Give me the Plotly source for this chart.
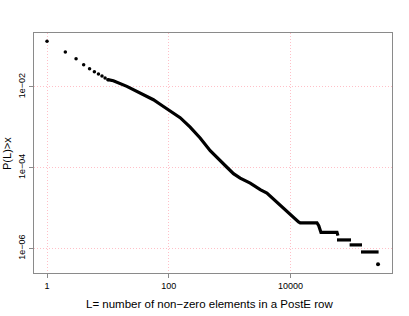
import plotly.graph_objects as go

# Discrete points at small L
disc_L = [1, 2, 3, 4, 5, 6, 7, 8, 9, 10]
disc_P = [0.1355, 0.074, 0.0503, 0.0357, 0.0284, 0.024, 0.021, 0.0188, 0.0167, 0.0152]

# Dense part of the curve
curve_L = [10, 12.3, 20.5, 33.9, 56.0, 72.2, 105.4, 154, 225, 328, 480, 700, 895,
           1159, 1493, 2181, 3186, 4105, 5272, 6792, 9300, 10590, 12000, 13590,
           14490, 27300, 29200, 31750, 58200, 60400]
curve_P = [0.0152, 0.01432, 0.01035, 0.0071, 0.00484, 0.00373, 0.00259, 0.001734,
           0.001009, 0.000545, 0.000264, 0.000145, 0.000104, 7.10e-5, 5.50e-5,
           4.13e-5, 2.85e-5, 2.36e-5, 1.66e-5, 1.21e-5, 7.53e-6, 6.21e-6, 5.36e-6,
           4.51e-6, 4.27e-6, 4.27e-6, 3.66e-6, 2.49e-6, 2.49e-6, 2.07e-6]

# Flat steps in the tail
step_L_start = [58200, 93800, 144500]
step_L_end = [98900, 150000, 281000]
step_P = [1.62e-6, 1.22e-6, 8.15e-7]

# Last isolated point
tail_L = [275000]
tail_P = [4.02e-7]

x_ticks = [1, 100, 10000]
x_ticklabels = ["1", "100", "10000"]
y_ticks = [1e-2, 1e-4, 1e-6]
y_ticklabels = ["1e\u221202", "1e\u221204", "1e\u221206"]

step_x, step_y = [], []
for a, b, p in zip(step_L_start, step_L_end, step_P):
    step_x += [a, b, None]
    step_y += [p, p, None]

fig = go.Figure()
fig.add_trace(go.Scatter(x=disc_L, y=disc_P, mode="markers",
                         marker=dict(color="black", size=3.5), showlegend=False))
fig.add_trace(go.Scatter(x=curve_L, y=curve_P, mode="lines",
                         line=dict(color="black", width=3.2), showlegend=False))
fig.add_trace(go.Scatter(x=step_x, y=step_y, mode="lines",
                         line=dict(color="black", width=3.2), showlegend=False))
fig.add_trace(go.Scatter(x=tail_L, y=tail_P, mode="markers",
                         marker=dict(color="black", size=4), showlegend=False))

font = "Liberation Sans, Arial, Helvetica, sans-serif"
axis_common = dict(
    type="log", showline=True, mirror=True, linecolor="#8a8a8a", linewidth=1.3,
    ticks="outside", ticklen=4, tickcolor="#8a8a8a", tickwidth=1,
    showgrid=True, gridcolor="#ffc0c8", griddash="1px,2px", gridwidth=1,
    zeroline=False, automargin=False,
    tickfont=dict(family=font, size=9, color="black"),
)
fig.update_xaxes(range=[-0.214, 5.669], tickmode="array", tickvals=x_ticks,
                 ticktext=x_ticklabels, **axis_common)
fig.update_yaxes(range=[-6.61, -0.662], tickmode="array", tickvals=y_ticks,
                 ticktext=y_ticklabels, tickangle=-90, **axis_common)

fig.update_layout(
    width=409, height=316, autosize=False,
    margin=dict(l=34, r=17, t=33, b=43, pad=0, autoexpand=False),
    paper_bgcolor="white", plot_bgcolor="white",
    font=dict(family=font, color="black"),
    hovermode=False,
    annotations=[
        dict(text="L= number of non\u2212zero elements in a PostE row",
             xref="paper", yref="paper", x=0.4906, y=-0.128,
             xanchor="center", yanchor="middle", showarrow=False,
             font=dict(family=font, size=11.5, color="black")),
        dict(text="P(L)>x", xref="paper", yref="paper", x=-0.0755, y=0.5,
             xanchor="center", yanchor="middle", showarrow=False, textangle=-90,
             font=dict(family=font, size=11, color="black")),
    ],
)

fig.write_html(
    "out.html",
    config={"displayModeBar": False, "staticPlot": True},
    post_script="document.body.style.margin='0';document.body.style.overflow='hidden';",
)
